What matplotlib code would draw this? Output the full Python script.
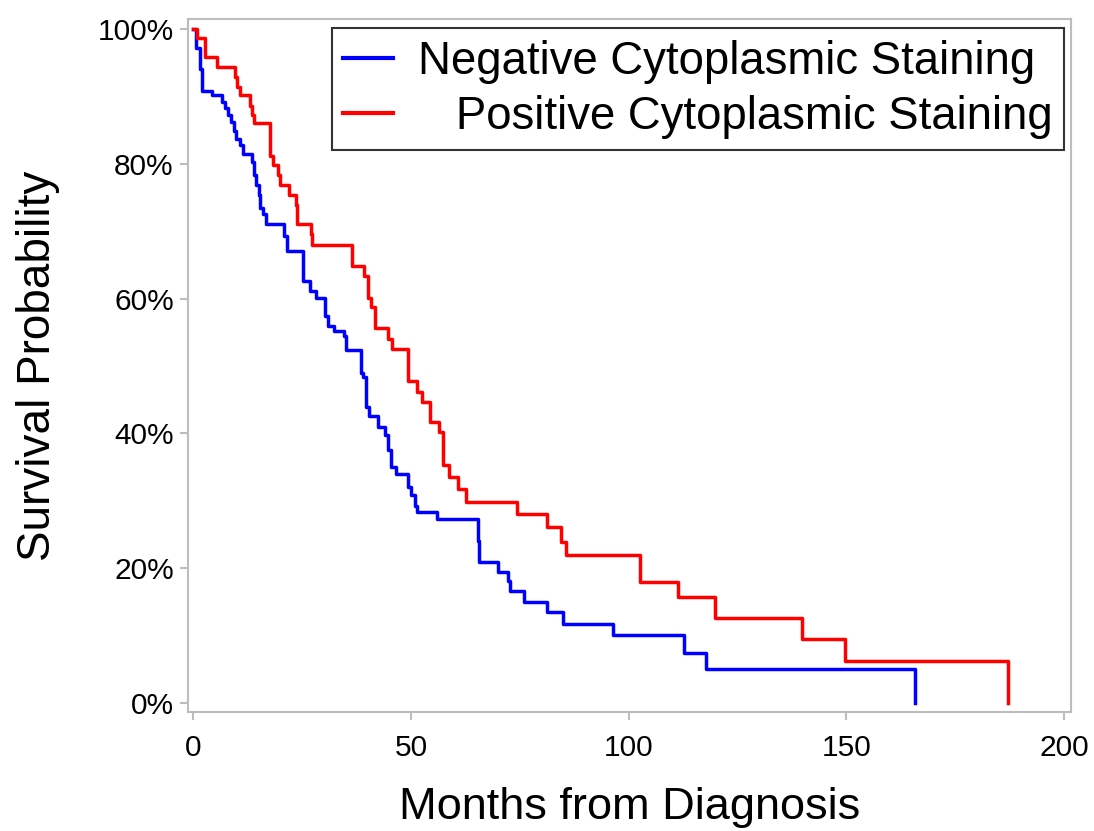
import numpy as np
import matplotlib
matplotlib.use("Agg")
import matplotlib.pyplot as plt
from matplotlib.ticker import FuncFormatter

# Kaplan-Meier step curves (months, survival %)
neg_months = [0, 0.7, 1.45, 2.0, 4.3, 6.6, 7.2, 7.95, 8.7, 9.3, 9.9, 10.8, 11.4,
              13.4, 13.9, 14.4, 15.0, 15.4, 16.0, 16.7, 20.8, 21.6, 25.2, 26.7,
              28.2, 30.3, 30.9, 32.4, 34.6, 35.1, 38.4, 38.9, 39.7, 40.4, 42.4,
              43.9, 44.8, 45.4, 46.6, 49.4, 50.0, 50.8, 51.3, 56.0, 65.4, 65.7,
              69.9, 72.2, 72.8, 76.0, 81.2, 85.0, 96.4, 112.7, 117.7, 165.7]
neg_surv = [100, 97.1, 94.1, 90.8, 90.1, 89.1, 88.2, 87.2, 86.2, 84.9, 83.7, 82.7,
            81.5, 80.2, 78.3, 76.8, 75.3, 73.4, 72.5, 71.0, 69.2, 67.0, 62.6,
            61.1, 60.1, 57.4, 55.9, 55.2, 54.5, 52.3, 49.0, 48.3, 43.9, 42.6,
            40.9, 39.7, 37.5, 35.0, 34.0, 32.0, 30.8, 29.3, 28.4, 27.3, 24.0,
            20.9, 19.5, 18.1, 16.6, 15.0, 13.6, 11.7, 10.1, 7.5, 5.1, 0]

pos_months = [0, 0.9, 2.6, 5.5, 9.5, 10.1, 10.6, 13.1, 13.4, 13.9, 17.7, 18.3,
              19.4, 20.0, 21.9, 23.6, 23.9, 26.9, 27.2, 36.4, 39.3, 40.0, 40.8,
              41.6, 44.8, 45.6, 49.4, 51.4, 52.4, 54.4, 56.5, 57.3, 58.8, 60.7,
              62.6, 74.3, 81.2, 84.4, 85.6, 102.5, 111.4, 119.8, 139.7, 149.6,
              187.0]
pos_surv = [100, 98.6, 95.8, 94.3, 92.8, 91.4, 90.1, 88.6, 87.2, 86.0, 81.2,
            79.8, 78.3, 76.8, 75.3, 73.9, 71.0, 69.5, 68.0, 64.8, 63.4, 60.1,
            58.7, 55.7, 54.0, 52.5, 47.8, 46.1, 44.6, 41.7, 40.2, 35.3, 33.5,
            31.8, 29.8, 28.0, 26.1, 23.9, 22.0, 18.0, 15.8, 12.6, 9.5, 6.3, 0]

labels = ["Negative Cytoplasmic Staining", "   Positive Cytoplasmic Staining"]
colors = ["#0000ff", "#ff0000"]

plt.rcParams["font.family"] = ["Liberation Sans", "DejaVu Sans"]

fig = plt.figure(figsize=(10.94, 8.31), dpi=100)
ax = fig.add_axes([0.1716, 0.1436, 0.8071, 0.8332])

ax.plot(neg_months, neg_surv, drawstyle="steps-post", color=colors[0],
        lw=2.5, label=labels[0])
ax.plot(pos_months, pos_surv, drawstyle="steps-post", color=colors[1],
        lw=2.5, label=labels[1])

ax.set_xlim(-1.3, 201.5)
ax.set_ylim(-1.25, 101.4)
ax.set_xticks([0, 50, 100, 150, 200])
ax.set_yticks([0, 20, 40, 60, 80, 100])
ax.yaxis.set_major_formatter(FuncFormatter(lambda v, p: f"{int(v)}%"))

for s in ax.spines.values():
    s.set_color("#bdbdbd")
    s.set_linewidth(1.5)
ax.tick_params(colors="#bdbdbd", labelcolor="black", labelsize=21.5,
               length=6, width=1.5)
ax.tick_params(axis="x", pad=10)
ax.tick_params(axis="y", pad=4)

ax.set_xlabel("Months from Diagnosis", fontsize=32.5, labelpad=18)
ax.set_ylabel("Survival Probability", fontsize=33, labelpad=27)

leg = ax.legend(loc="upper right", bbox_to_anchor=(0.9927, 0.987),
                borderaxespad=0, fontsize=32.8, frameon=True, fancybox=False,
                handlelength=1.1, handletextpad=0.55, borderpad=0.25,
                labelspacing=0.25)
leg.get_frame().set_edgecolor("black")
leg.get_frame().set_linewidth(1.5)
for line in leg.get_lines():
    line.set_linewidth(3)

fig.savefig("out.png", dpi=100)
